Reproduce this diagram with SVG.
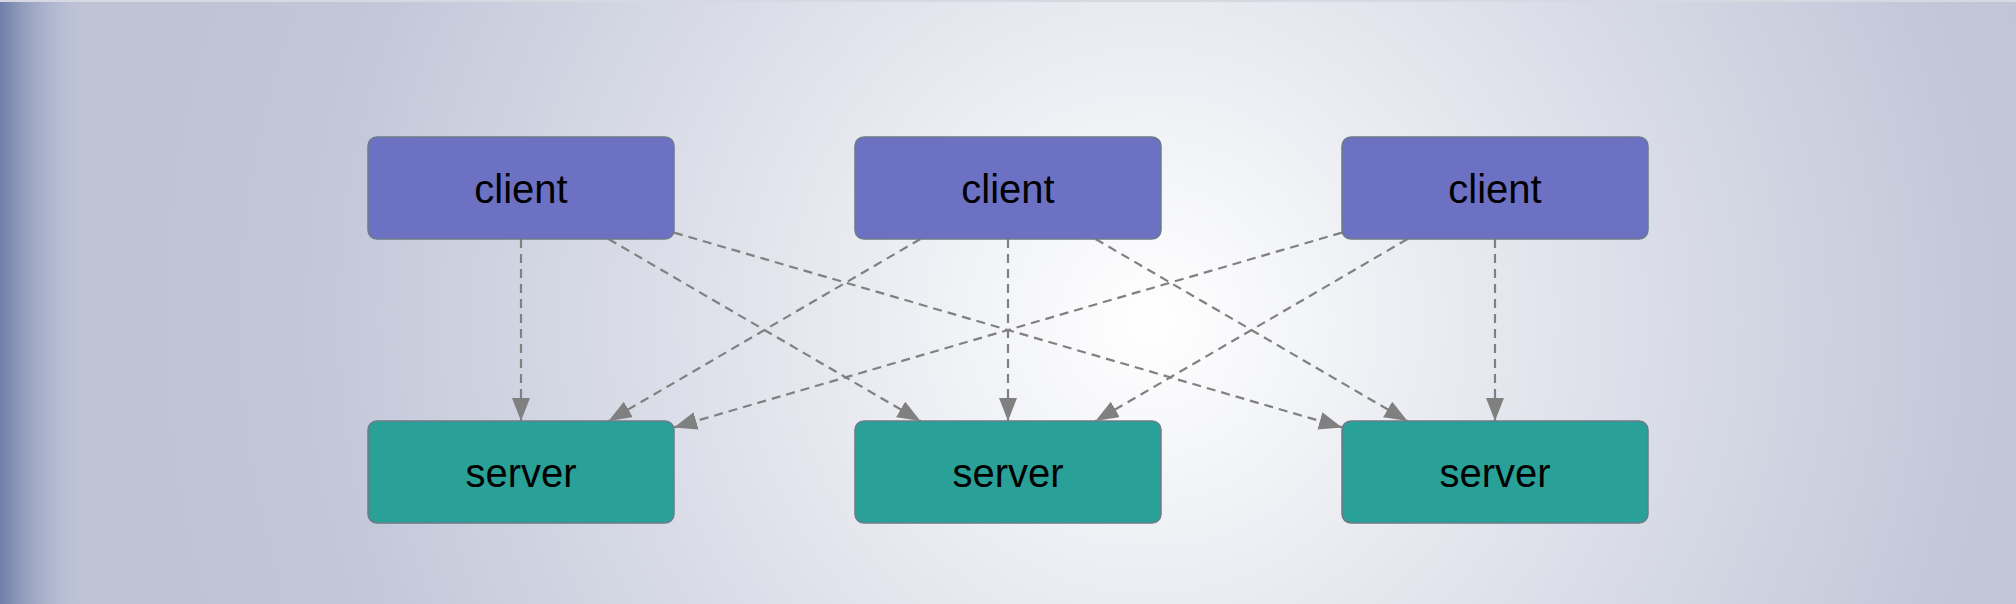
<svg xmlns="http://www.w3.org/2000/svg" width="2016" height="604" viewBox="0 0 2016 604">
  <defs>
    <radialGradient id="bg" gradientUnits="userSpaceOnUse" cx="1150" cy="320" r="1000">
      <stop offset="0" stop-color="#ffffff"/>
      <stop offset="0.3" stop-color="#e9ebf1"/>
      <stop offset="0.85" stop-color="#c1c6d8"/>
      <stop offset="1" stop-color="#bec3d6"/>
    </radialGradient>
    <linearGradient id="leftEdge" x1="0" y1="0" x2="1" y2="0">
      <stop offset="0" stop-color="#6e7ea8" stop-opacity="1"/>
      <stop offset="0.5" stop-color="#99a4c2" stop-opacity="0.6"/>
      <stop offset="1" stop-color="#bcc2d6" stop-opacity="0"/>
    </linearGradient>
    <marker id="arrow" markerUnits="userSpaceOnUse" markerWidth="26" markerHeight="20" refX="23" refY="9" orient="auto">
      <path d="M0,0 L23,9 L0,18 Z" fill="#808080"/>
    </marker>
    <style>
      .node rect { stroke: #6b7b88; stroke-width: 1.5; }
      .client rect { fill: #6c71c4; }
      .server rect { fill: #2aa198; }
      .node text { font-family: "Liberation Sans", Arial, Helvetica, sans-serif; font-size: 40px; fill: #000000; text-anchor: middle; }
      .edge { stroke: #808080; stroke-width: 2.2; stroke-dasharray: 9,6; fill: none; marker-end: url(#arrow); }
    </style>
  </defs>
  <rect x="0" y="0" width="2016" height="604" fill="url(#bg)"/>
  <rect x="0" y="0" width="85" height="604" fill="url(#leftEdge)"/>
  <rect x="0" y="0" width="2016" height="2" fill="#d6d9e2"/>

  <g id="connectors">
    <line class="edge" x1="521" y1="239" x2="521" y2="421"/>
    <line class="edge" x1="608.5" y1="239" x2="920.5" y2="421"/>
    <line class="edge" x1="674" y1="232.6" x2="1342" y2="427.4"/>
    <line class="edge" x1="920.5" y1="239" x2="608.5" y2="421"/>
    <line class="edge" x1="1008" y1="239" x2="1008" y2="421"/>
    <line class="edge" x1="1095.5" y1="239" x2="1407.5" y2="421"/>
    <line class="edge" x1="1342" y1="232.6" x2="674" y2="427.4"/>
    <line class="edge" x1="1407.5" y1="239" x2="1095.5" y2="421"/>
    <line class="edge" x1="1495" y1="239" x2="1495" y2="421"/>
  </g>

  <g id="client1" class="node client">
    <rect x="368" y="137" width="306" height="102" rx="9"/>
    <text x="521" y="203">client</text>
  </g>
  <g id="client2" class="node client">
    <rect x="855" y="137" width="306" height="102" rx="9"/>
    <text x="1008" y="203">client</text>
  </g>
  <g id="client3" class="node client">
    <rect x="1342" y="137" width="306" height="102" rx="9"/>
    <text x="1495" y="203">client</text>
  </g>
  <g id="server1" class="node server">
    <rect x="368" y="421" width="306" height="102" rx="9"/>
    <text x="521" y="487">server</text>
  </g>
  <g id="server2" class="node server">
    <rect x="855" y="421" width="306" height="102" rx="9"/>
    <text x="1008" y="487">server</text>
  </g>
  <g id="server3" class="node server">
    <rect x="1342" y="421" width="306" height="102" rx="9"/>
    <text x="1495" y="487">server</text>
  </g>
</svg>
